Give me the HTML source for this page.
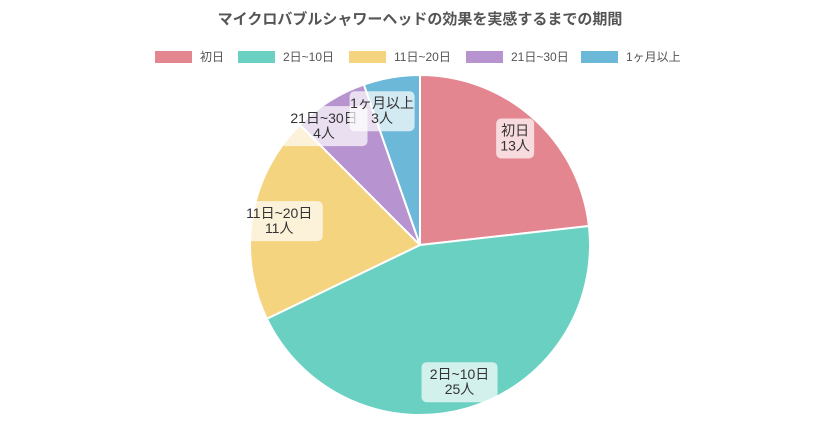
<!DOCTYPE html>
<html><head><meta charset="utf-8"><style>
body{margin:0;background:#fff;width:840px;height:437px;overflow:hidden;font-family:"Liberation Sans","Noto Sans CJK JP",sans-serif}
</style></head><body>
<svg width="840" height="437" id="c">
<text x="420" y="24" text-anchor="middle" font-size="15" font-weight="bold" fill="#555" font-family="Liberation Sans, Noto Sans CJK JP, sans-serif">マイクロバブルシャワーヘッドの効果を実感するまでの期間</text>
<g id="legend"></g><g id="slices"></g><g id="labels"></g>
</svg>
<script>
const categories=["初日","2日~10日","11日~20日","21日~30日","1ヶ月以上"];
const values=[13,25,11,4,3];
const colors=["#e4868f","#6ad0c2","#f5d47f","#b794cf","#6cb8d8"];
const ns="http://www.w3.org/2000/svg";
const cx=420,cy=245,r=170;
const total=values.reduce((a,b)=>a+b,0);
const sl=document.getElementById('slices'),lb=document.getElementById('labels'),lg=document.getElementById('legend');
function pt(a,rr){return [cx+rr*Math.sin(a),cy-rr*Math.cos(a)];}
let acc=0;
const n=values.length;
values.forEach((v,i)=>{
 const a0=acc/total*2*Math.PI;acc+=v;const a1=acc/total*2*Math.PI;
 const p0=pt(a0,r),p1=pt(a1,r);
 const p=document.createElementNS(ns,'path');
 p.setAttribute('d',`M${cx},${cy}L${p0[0]},${p0[1]}A${r},${r} 0 ${a1-a0>Math.PI?1:0} 1 ${p1[0]},${p1[1]}Z`);
 p.setAttribute('fill',colors[i]);p.setAttribute('stroke','#fff');p.setAttribute('stroke-width','2');
 
 
 sl.appendChild(p);
 const m=(a0+a1)/2,c=pt(m,r*0.84);
 if(i===n-2){c[0]-=20;c[1]+=2;}
 if(i===n-1){c[0]-=14;c[1]+=7;}
 const g=document.createElementNS(ns,'g');
 
 
 const w=Math.max(categories[i].length*11+10,38);
 const rect=document.createElementNS(ns,'rect');
 rect.setAttribute('x',c[0]-w/2);rect.setAttribute('y',c[1]-20);rect.setAttribute('width',w);rect.setAttribute('height',40);
 rect.setAttribute('rx',5);rect.setAttribute('fill','rgba(255,255,255,0.7)');
 g.appendChild(rect);
 [categories[i],v+"人"].forEach((t,j)=>{
  const tx=document.createElementNS(ns,'text');
  tx.setAttribute('x',c[0]);tx.setAttribute('y',c[1]-3+j*15);tx.setAttribute('text-anchor','middle');
  tx.setAttribute('font-size','14');tx.setAttribute('fill','#333');tx.textContent=t;g.appendChild(tx);
 });
 lb.appendChild(g);
});
const lx=[155,238,349,466,581];
categories.forEach((cName,i)=>{
 const g=document.createElementNS(ns,'g');
 
 
 const rc=document.createElementNS(ns,'rect');
 rc.setAttribute('x',lx[i]);rc.setAttribute('y',51);rc.setAttribute('width',37);rc.setAttribute('height',12);rc.setAttribute('fill',colors[i]);
 g.appendChild(rc);
 const t=document.createElementNS(ns,'text');
 t.setAttribute('x',lx[i]+45);t.setAttribute('y',61);t.setAttribute('font-size','12');t.setAttribute('fill','#555');t.textContent=cName;
 g.appendChild(t);lg.appendChild(g);
});
</script>
</body></html>
